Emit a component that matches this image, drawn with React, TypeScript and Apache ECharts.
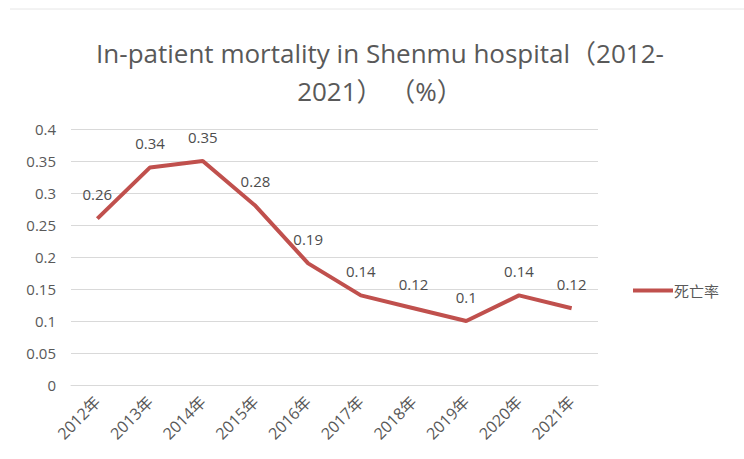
import React, { useEffect, useRef } from "react";
import * as echarts from "echarts";

const years = ["2012年", "2013年", "2014年", "2015年", "2016年", "2017年", "2018年", "2019年", "2020年", "2021年"];
const mortality = [0.26, 0.34, 0.35, 0.28, 0.19, 0.14, 0.12, 0.1, 0.14, 0.12];
const seriesName = "死亡率";
const titleText = "In-patient mortality in Shenmu hospital（2012-\n2021） （%）";

export default function App() {
  const ref = useRef<HTMLDivElement>(null);
  useEffect(() => {
    if (!ref.current) return;
    const chart = echarts.init(ref.current, undefined, { renderer: "svg" });
    const font = "'Open Sans', 'Noto Sans CJK SC', sans-serif";
    chart.setOption({
      animation: false,
      backgroundColor: "#ffffff",
      textStyle: { fontFamily: font },
      title: {
        text: titleText,
        left: 375,
        textAlign: "center",
        top: 29,
        textStyle: { fontSize: 26, fontWeight: "normal", color: "#595959", lineHeight: 38, fontFamily: font },
      },
      legend: {
        data: [seriesName],
        orient: "vertical",
        left: 628,
        top: 278,
        itemWidth: 40,
        itemHeight: 4,
        itemGap: 4,
        icon: "rect",
        textStyle: { fontSize: 15, color: "#595959", fontFamily: font, padding: [0, 0, 0, -4] },
      },
      grid: { left: 71, right: 146, top: 129, bottom: 74, containLabel: false },
      xAxis: {
        type: "category",
        data: years,
        boundaryGap: true,
        axisLine: { show: true, lineStyle: { color: "#d9d9d9", width: 1 } },
        axisTick: { show: false },
        axisLabel: { rotate: 45, color: "#595959", fontSize: 16, margin: 14, interval: 0, fontFamily: font },
      },
      yAxis: {
        type: "value",
        min: 0,
        max: 0.4,
        interval: 0.05,
        axisLine: { show: false },
        axisTick: { show: false },
        axisLabel: { color: "#595959", fontSize: 15, margin: 15, fontFamily: font },
        splitLine: { lineStyle: { color: "#d9d9d9", width: 1 } },
      },
      series: [
        {
          name: seriesName,
          type: "line",
          data: mortality,
          symbol: "circle",
          symbolSize: 0,
          showSymbol: true,
          lineStyle: { color: "#C0504D", width: 4 },
          itemStyle: { color: "#C0504D" },
          label: { show: true, position: "top", distance: 17, color: "#4d4d4d", fontSize: 15, fontFamily: font },
        },
      ],
      graphic: [
        {
          type: "line",
          shape: { x1: 10, y1: 9, x2: 744, y2: 9 },
          style: { stroke: "#e6e6e6", lineWidth: 1 },
        },
      ],
    });
    return () => chart.dispose();
  }, []);
  return <div ref={ref} style={{ width: 744, height: 459, position: "absolute", left: 0, top: 0 }} />;
}
